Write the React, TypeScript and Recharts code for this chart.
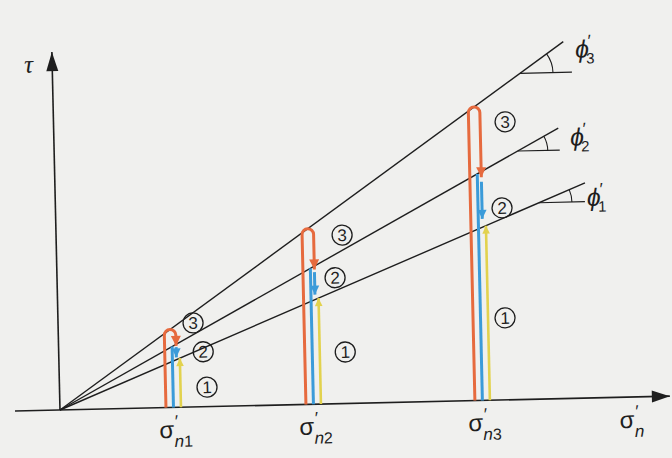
import React from 'react';
import { ComposedChart, Line, Scatter, XAxis, YAxis } from 'recharts';

// effective normal stress of the three shear tests
const sigmaN = [22.7, 50.7, 84.5];
const sigmaSubs = ['1', '2', '3'];

// friction angles (deg) of the envelopes φ'1, φ'2, φ'3
const phiDeg = [22.1, 28.2, 34.9];
const phiSubs = ['1', '2', '3'];

// σ' where each envelope line stops
const envelopeEnd = [106, 100.9, 102.3];

// angle marks: σ' of the vertex on the envelope, horizontal leg length, arc radius
const angleVertex = [96.7, 92.7, 93.5];
const angleLeg = [9.2, 8.4, 10.4];
const angleRadius = [6.6, 6, 6.6];

// circled stage numbers beside each test
const stageSigma = [27.0, 28.9, 29.5, 57.2, 55.6, 57.3, 90.3, 89.3, 89.4];
const stageTau = [16.8, 11.0, 3.9, 33.7, 25.2, 10.3, 55.6, 38.4, 16.4];
const stageNo = [3, 2, 1, 3, 2, 1, 3, 2, 1];

// text anchors of the φ' names (start of text, baseline)
const phiLabelSigma = [106.3, 103.2, 104.6];
const phiLabelTau = [38.4, 50.5, 68.1];

const W = 672;
const H = 458;
const PX = 5; // pixels per unit, same on both axes
const X_DOMAIN: [number, number] = [-12, 122.4];
const Y_DOMAIN: [number, number] = [-9.6, 82];
const ORIGIN_X = -X_DOMAIN[0] * PX;
const ORIGIN_Y = Y_DOMAIN[1] * PX;
const TILT = -1.3; // the sheet is turned a touch anticlockwise

const INK = '#1e1e1e';
const ORANGE = '#e66a3e';
const BLUE = '#3b9bd9';
const YELLOW = '#e2d24e';
const PAPER = '#f0f0ee';
const SANS = "'Liberation Sans', 'DejaVu Sans', Arial, sans-serif";

// loop offsets around each test, in σ' units
const LOOP_LEFT = -1.5;
const LOOP_RIGHT = 0.8;
const YELLOW_DX = 1.5;
const SIGMA_AXIS_END = 122;
const TAU_AXIS_END = 71.6;

const tanPhi = phiDeg.map((d) => Math.tan((d * Math.PI) / 180));
const onEnvelope = (i: number, s: number) => s * tanPhi[i];

// polyline with rounded corners (used for the stage-3 loop)
const roundedCorners = (radius: number) => (context: any) => {
  let pts: number[][] = [];
  return {
    areaStart() {},
    areaEnd() {},
    lineStart() {
      pts = [];
    },
    point(x: number, y: number) {
      pts.push([x, y]);
    },
    lineEnd() {
      if (!pts.length) return;
      context.moveTo(pts[0][0], pts[0][1]);
      for (let i = 1; i < pts.length - 1; i++) {
        context.arcTo(pts[i][0], pts[i][1], pts[i + 1][0], pts[i + 1][1], radius);
      }
      const last = pts[pts.length - 1];
      context.lineTo(last[0], last[1]);
    },
  };
};

// [point on envelope, vertex, point on horizontal leg] -> arc round the vertex
const angleArc = (context: any) => {
  let pts: number[][] = [];
  return {
    areaStart() {},
    areaEnd() {},
    lineStart() {
      pts = [];
    },
    point(x: number, y: number) {
      pts.push([x, y]);
    },
    lineEnd() {
      if (pts.length < 3) return;
      const [a, v, b] = pts;
      const r = Math.hypot(b[0] - v[0], b[1] - v[1]);
      const a0 = Math.atan2(a[1] - v[1], a[0] - v[0]);
      const a1 = Math.atan2(b[1] - v[1], b[0] - v[0]);
      context.moveTo(v[0] + r * Math.cos(a0), v[1] + r * Math.sin(a0));
      context.arc(v[0], v[1], r, a0, a1, false);
    },
  };
};

const arrowPath = (x: number, y: number, dir: string, len: number, half: number) => {
  if (dir === 'up') return `M${x},${y}L${x - half},${y + len}L${x + half},${y + len}Z`;
  if (dir === 'down') return `M${x},${y}L${x - half},${y - len}L${x + half},${y - len}Z`;
  return `M${x},${y}L${x - len},${y - half}L${x - len},${y + half}Z`;
};

const headAt = (dir: string, len: number, half: number, color: string) => (p: any) =>
  p.payload && p.payload.head ? (
    <path key={`h${p.index}`} d={arrowPath(p.cx, p.cy, dir, len, half)} fill={color} />
  ) : (
    <g key={`h${p.index}`} />
  );

const capRadius = ((LOOP_RIGHT - LOOP_LEFT) * PX) / 2 - 0.01;

const tests = sigmaN.map((s) => {
  const L = s + LOOP_LEFT;
  const R = s + LOOP_RIGHT;
  const Y = s + YELLOW_DX;
  const top = onEnvelope(2, (L + R) / 2);
  const t2 = onEnvelope(1, R);
  const t1 = onEnvelope(0, R);
  const span = t2 - t1;
  return {
    orange: [
      { x: L, y: 0 },
      { x: L, y: top },
      { x: R, y: top },
      { x: R, y: t2 - 0.1 * span, head: true },
    ],
    blueUp: [
      { x: s, y: 0 },
      { x: s, y: onEnvelope(1, s) },
    ],
    blueDown: [
      { x: R, y: t2 - 0.18 * span },
      { x: R, y: t1 + 0.15 * span, head: true },
    ],
    yellow: [
      { x: Y, y: 0 },
      { x: Y, y: onEnvelope(0, Y), head: true },
    ],
  };
});

const envelopes = envelopeEnd.map((end, i) => [
  { x: 0, y: 0 },
  { x: end, y: onEnvelope(i, end) },
]);

const angleLegs = angleVertex.map((u, i) => [
  { x: u, y: onEnvelope(i, u) },
  { x: u + angleLeg[i], y: onEnvelope(i, u) },
]);

const angleArcs = angleVertex.map((u, i) => [
  { x: u + angleRadius[i] + 2, y: onEnvelope(i, u + angleRadius[i] + 2) },
  { x: u, y: onEnvelope(i, u) },
  { x: u + angleRadius[i], y: onEnvelope(i, u) },
]);

const sigmaAxis = [
  { x: -9, y: 0 },
  { x: SIGMA_AXIS_END, y: 0, head: true },
];
const tauAxis = [
  { x: 0, y: 0 },
  { x: 0, y: TAU_AXIS_END, head: true },
];

const stageData = stageNo.map((n, i) => ({ x: stageSigma[i], y: stageTau[i], n }));
const sigmaLabels = [
  ...sigmaN.map((s, i) => ({ x: s + 0.4, y: -6.1, sub: sigmaSubs[i] })),
  { x: SIGMA_AXIS_END - 7.7, y: -6.2, sub: '' },
];
const phiLabels = phiSubs.map((sub, i) => ({ x: phiLabelSigma[i], y: phiLabelTau[i], sub }));
const tauLabel = [{ x: -5.6, y: 67.6 }];

const StageMark = (p: any) => (
  <g>
    <circle cx={p.cx} cy={p.cy} r={10} fill="none" stroke={INK} strokeWidth={1.3} />
    <text x={p.cx} y={p.cy + 6} textAnchor="middle" fontSize={17} fill={INK} fontFamily={SANS}>
      {p.payload.n}
    </text>
  </g>
);

const SigmaLabel = (p: any) => (
  <text x={p.cx} y={p.cy} textAnchor="middle" fill={INK} fontFamily={SANS}>
    <tspan fontSize={24}>σ</tspan>
    <tspan fontSize={17} dx={1} dy={-11}>′</tspan>
    <tspan fontSize={17} fontStyle="italic" dx={-4} dy={20}>n</tspan>
    {p.payload.sub ? <tspan fontSize={16}>{p.payload.sub}</tspan> : null}
  </text>
);

const PhiLabel = (p: any) => (
  <text x={p.cx} y={p.cy} fill={INK} fontFamily={SANS}>
    <tspan fontSize={25} fontStyle="italic">ϕ</tspan>
    <tspan fontSize={17} dx={-1} dy={-11}>′</tspan>
    <tspan fontSize={15} dx={-5} dy={17}>{p.payload.sub}</tspan>
  </text>
);

const TauLabel = (p: any) => (
  <text x={p.cx} y={p.cy} fill={INK} fontFamily="'Liberation Serif', 'DejaVu Serif', serif" fontStyle="italic" fontSize={25}>
    τ
  </text>
);

const plain = {
  dataKey: 'y',
  isAnimationActive: false,
  activeDot: false,
  legendType: 'none' as const,
};

export default function App() {
  return (
    <div style={{ position: 'fixed', left: 0, top: 0, width: W, height: H, background: PAPER, overflow: 'hidden' }}>
      <div style={{ transform: `rotate(${TILT}deg)`, transformOrigin: `${ORIGIN_X}px ${ORIGIN_Y}px` }}>
        <ComposedChart width={W} height={H} margin={{ top: 0, right: 0, bottom: 0, left: 0 }}>
          <XAxis type="number" dataKey="x" domain={X_DOMAIN} allowDataOverflow hide />
          <YAxis type="number" dataKey="y" domain={Y_DOMAIN} allowDataOverflow hide />

          {/* axes */}
          <Line {...plain} data={sigmaAxis} type="linear" stroke={INK} strokeWidth={1.6} dot={headAt('right', 18, 6, INK)} />
          <Line {...plain} data={tauAxis} type="linear" stroke={INK} strokeWidth={1.6} dot={headAt('up', 19, 6, INK)} />

          {/* failure envelopes and their angle marks */}
          {envelopes.map((d, i) => (
            <Line key={`env${i}`} {...plain} data={d} type="linear" stroke={INK} strokeWidth={1.4} dot={false} />
          ))}
          {angleLegs.map((d, i) => (
            <Line key={`leg${i}`} {...plain} data={d} type="linear" stroke={INK} strokeWidth={1.2} dot={false} />
          ))}
          {angleArcs.map((d, i) => (
            <Line key={`arc${i}`} {...plain} data={d} type={angleArc as any} stroke={INK} strokeWidth={1.1} dot={false} />
          ))}

          {/* stress paths of each test */}
          {tests.map((t, i) => (
            <Line key={`or${i}`} {...plain} data={t.orange} type={roundedCorners(capRadius) as any} stroke={ORANGE} strokeWidth={3} strokeLinecap="butt" dot={headAt('down', 10, 5, ORANGE)} />
          ))}
          {tests.map((t, i) => (
            <Line key={`bu${i}`} {...plain} data={t.blueUp} type="linear" stroke={BLUE} strokeWidth={3} strokeLinecap="butt" dot={false} />
          ))}
          {tests.map((t, i) => (
            <Line key={`bd${i}`} {...plain} data={t.blueDown} type="linear" stroke={BLUE} strokeWidth={3} strokeLinecap="butt" dot={headAt('down', 9, 4.5, BLUE)} />
          ))}
          {tests.map((t, i) => (
            <Line key={`ye${i}`} {...plain} data={t.yellow} type="linear" stroke={YELLOW} strokeWidth={2.6} strokeLinecap="butt" dot={headAt('up', 8, 3.8, YELLOW)} />
          ))}

          {/* text */}
          <Scatter data={stageData} shape={StageMark} isAnimationActive={false} legendType="none" />
          <Scatter data={sigmaLabels} shape={SigmaLabel} isAnimationActive={false} legendType="none" />
          <Scatter data={phiLabels} shape={PhiLabel} isAnimationActive={false} legendType="none" />
          <Scatter data={tauLabel} shape={TauLabel} isAnimationActive={false} legendType="none" />
        </ComposedChart>
      </div>
    </div>
  );
}
